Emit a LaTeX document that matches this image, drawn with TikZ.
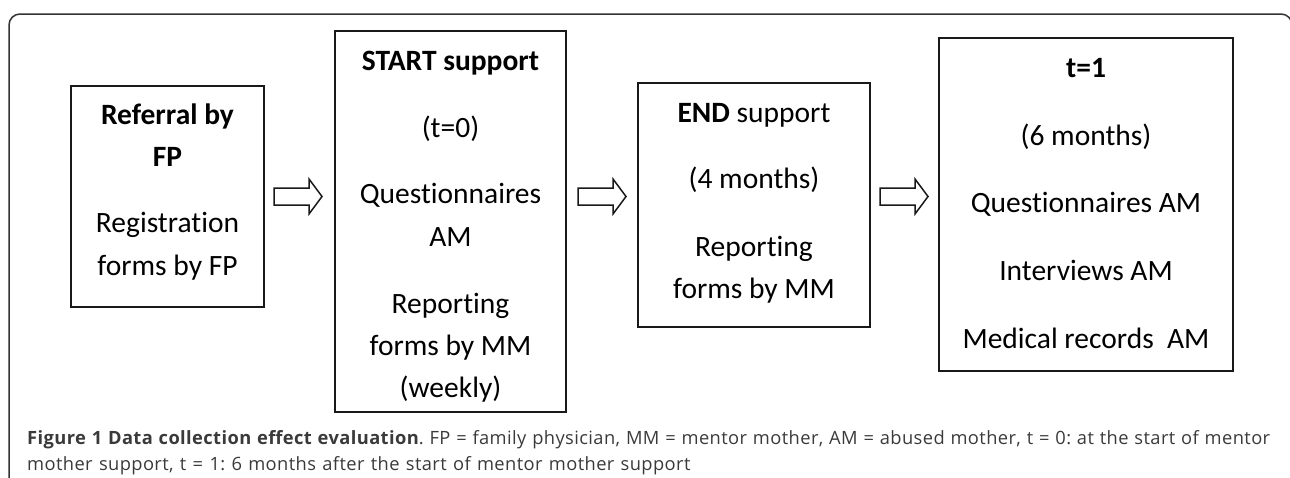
\documentclass[tikz,border=0pt]{standalone}
\usepackage{fontspec}
\setmainfont[RawFeature=-liga]{Carlito}
\newfontfamily\capfont[LetterSpace=2.2]{Open Sans}
\newcommand\capsetup{\capfont\fontsize{18.3pt}{22pt}\selectfont\spaceskip=6.3pt plus 4pt minus 2.5pt\relax}
\usetikzlibrary{calc}
\definecolor{frame}{HTML}{333333}
\definecolor{captext}{HTML}{3A3A3A}
\frenchspacing
\tikzset{
  stagebox/.style={draw=black!90, line width=2pt, inner sep=0pt},
  ln/.style={anchor=base, inner sep=0pt, font=\fontsize{29.5pt}{34pt}\selectfont},
  capln/.style={anchor=base west, inner sep=0pt, text=captext, font=\capsetup},
  blockarr/.pic={\draw[line width=1.5pt, black!90, line join=miter]
     (0,-8.5) -- (35,-8.5) -- (35,-17.5) -- (48,0) -- (35,17.5) -- (35,8.5) -- (0,8.5) -- cycle;}
}
\begin{document}
\begin{tikzpicture}[x=1pt,y=-1pt]
\useasboundingbox (0,0) rectangle (1290,477);
\clip (0,0) rectangle (1290,477);
% outer frame (open at bottom)
\draw[frame, line width=1.5pt, rounded corners=11pt] (9,480) -- (9,14) -- (1292,14) -- (1292,480);

% boxes
\node[stagebox, minimum width=193pt, minimum height=221pt] (b1) at (167.5,196.5) {};
\node[stagebox, minimum width=231pt, minimum height=381pt] (b2) at (450.5,221.5) {};
\node[stagebox, minimum width=232pt, minimum height=244pt] (b3) at (754,205) {};
\node[stagebox, minimum width=294pt, minimum height=333pt] (b4) at (1086,204.5) {};

% box 1 text
\node[ln] (t11) at (167.5,124) {\textbf{Referral by}};
\node[ln] (t12) at (167.5,166) {\textbf{FP}};
\node[ln] (t13) at (167.5,232) {Registration};
\node[ln] (t14) at (167.5,275) {forms by FP};
% box 2 text
\node[ln] (t21) at (450.5,70) {\textbf{START support}};
\node[ln] (t22) at (450.5,137) {(t=0)};
\node[ln] (t23) at (450.5,203) {Questionnaires};
\node[ln] (t24) at (450.5,246) {AM};
\node[ln] (t25) at (450.5,313) {Reporting};
\node[ln] (t26) at (450.5,355) {forms by MM};
\node[ln] (t27) at (450.5,397) {(weekly)};
% box 3 text
\node[ln] (t31) at (754,122) {\textbf{END} support};
\node[ln] (t32) at (754,188) {(4 months)};
\node[ln] (t33) at (754,256) {Reporting};
\node[ln] (t34) at (754,298) {forms by MM};
% box 4 text
\node[ln] (t41) at (1086,77) {\textbf{t=1}};
\node[ln] (t42) at (1086,145) {(6 months)};
\node[ln] (t43) at (1086,212) {Questionnaires AM};
\node[ln] (t44) at (1086,280) {Interviews AM};
\node[ln] (t45) at (1086,348) {Medical records\ \ AM};

% block arrows between boxes
\coordinate (ay) at (0,196.5);
\pic at ($(b1.east |- ay)+(9,0)$) {blockarr};
\pic at ($(b2.east |- ay)+(11,0)$) {blockarr};
\pic at ($(b3.east |- ay)+(9,0)$) {blockarr};

% caption
\node[capln] (cap1) at (27,444) {\makebox[1243pt][s]{\textbf{Figure 1 Data collection effect evaluation}. FP = family physician, MM = mentor mother, AM = abused mother, t = 0: at the start of mentor}};
\node[capln] (cap2) at (27,470) {mother support, t = 1: 6 months after the start of mentor mother support};
\end{tikzpicture}
\end{document}
